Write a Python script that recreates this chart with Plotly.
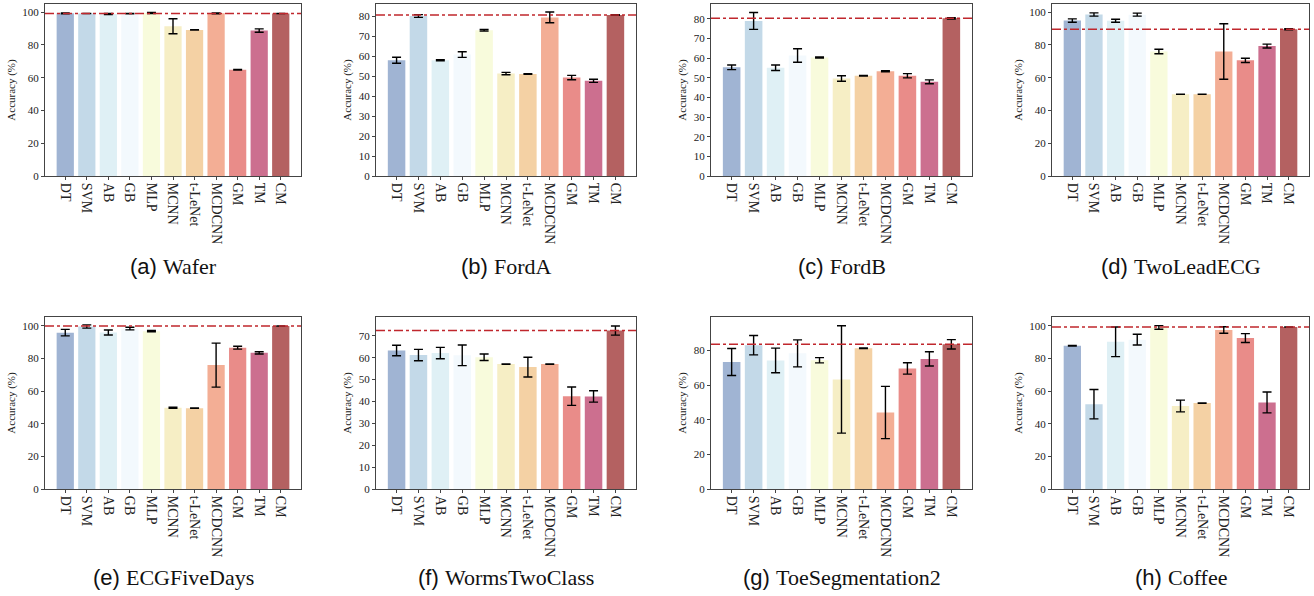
import plotly.graph_objects as go

methods = ["DT", "SVM", "AB", "GB", "MLP", "MCNN", "t-LeNet", "MCDCNN", "GM", "TM", "CM"]
bar_colors = ["#a0b4d3", "#c3d9e8", "#dff0f5", "#f3f9fd", "#f8fbdc", "#f6eec5",
              "#f4d1a4", "#f3ae95", "#e98c89", "#cc6f8f", "#b46161"]

labels = ["(a)", "(b)", "(c)", "(d)", "(e)", "(f)", "(g)", "(h)"]
datasets = ["Wafer", "FordA", "FordB", "TwoLeadECG",
            "ECGFiveDays", "WormsTwoClass", "ToeSegmentation2", "Coffee"]

wafer_mean = [99.3, 99.2, 98.9, 99.1, 99.5, 91.4, 89.2, 99.3, 64.9, 88.8, 99.2]
wafer_err = [0.3, 0.1, 0.3, 0.1, 0.3, 4.6, 0.1, 0.3, 0.2, 1.0, 0.1]
forda_mean = [57.9, 80.0, 57.9, 60.7, 72.9, 51.2, 51.0, 79.3, 49.2, 47.6, 80.5]
forda_err = [1.5, 0.7, 0.3, 1.4, 0.4, 0.6, 0.1, 2.7, 1.1, 0.8, 0.2]
fordb_mean = [55.3, 78.9, 55.1, 61.3, 60.3, 49.6, 51.0, 53.3, 51.0, 47.9, 80.2]
fordb_err = [1.2, 4.3, 1.4, 3.4, 0.3, 1.4, 0.1, 0.3, 1.1, 1.0, 0.3]
twolead_mean = [94.9, 98.6, 94.8, 98.5, 76.0, 49.9, 49.9, 76.0, 70.6, 79.3, 89.6]
twolead_err = [1.0, 1.0, 0.9, 0.9, 1.4, 0.1, 0.1, 16.9, 1.3, 1.2, 0.3]
ecg5_mean = [95.9, 99.7, 96.0, 98.4, 96.8, 49.8, 49.6, 76.0, 86.7, 83.5, 100.0]
ecg5_err = [2.0, 1.0, 1.5, 0.8, 0.4, 0.3, 0.1, 13.5, 0.9, 0.7, 0.0]
worms_mean = [63.3, 61.2, 62.1, 61.1, 60.2, 57.1, 55.7, 57.1, 42.4, 42.3, 72.4]
worms_err = [2.4, 2.6, 2.6, 4.7, 1.5, 0.1, 4.5, 0.1, 4.2, 2.6, 2.1]
toe_mean = [73.4, 83.1, 74.3, 78.4, 74.4, 63.3, 81.3, 44.2, 69.7, 75.2, 83.6]
toe_err = [7.8, 5.6, 7.1, 7.8, 1.5, 31.0, 0.2, 15.1, 3.3, 4.1, 2.7]
coffee_mean = [87.9, 52.0, 90.3, 91.6, 99.1, 50.9, 52.7, 97.5, 92.6, 53.1, 99.4]
coffee_err = [0.2, 9.0, 9.1, 3.3, 1.1, 3.6, 0.1, 2.0, 2.7, 6.4, 0.0]

means = [wafer_mean, forda_mean, fordb_mean, twolead_mean,
         ecg5_mean, worms_mean, toe_mean, coffee_mean]
errs = [wafer_err, forda_err, fordb_err, twolead_err,
        ecg5_err, worms_err, toe_err, coffee_err]
y_tops = [105, 86, 87.5, 105, 105.5, 78.6, 99.4, 105.5]
y_dticks = [20, 10, 10, 20, 20, 10, 20, 20]

W, H = 1314, 596
col_px = [(45, 301), (376, 636), (711, 972), (1052, 1309)]
row_px = [(4, 176), (317, 489)]
caption_y_px = [266, 577]


def px_x(v):
    return v / W


def px_y(v):
    return 1 - v / H


fig = go.Figure()
for i in range(8):
    r, c = divmod(i, 4)
    ax = "" if i == 0 else str(i + 1)
    xref, yref = "x" + ax, "y" + ax
    fig.add_trace(go.Bar(
        x=list(range(len(methods))), y=means[i],
        marker=dict(color=bar_colors, line=dict(width=0)),
        width=0.8,
        error_y=dict(type="data", array=errs[i], color="black", thickness=1.4, width=4.5),
        xaxis=xref, yaxis=yref, showlegend=False,
    ))
    x0, x1 = col_px[c]
    yt, yb = row_px[r]
    axis_common = dict(showline=True, linecolor="#444", linewidth=1, mirror=True,
                       ticks="outside", ticklen=3, tickcolor="#444", showgrid=False,
                       zeroline=False, automargin=False)
    fig.update_layout(**{
        "xaxis" + ax: dict(domain=[px_x(x0), px_x(x1)], anchor=yref, range=[-0.94, 10.94],
                           tickmode="array", tickvals=list(range(len(methods))), ticktext=methods,
                           tickangle=90,
                           tickfont=dict(family="Liberation Serif", size=14, color="#222"),
                           **axis_common),
        "yaxis" + ax: dict(domain=[px_y(yb), px_y(yt)], anchor=xref, range=[0, y_tops[i]],
                           dtick=y_dticks[i],
                           tickfont=dict(family="Liberation Serif", size=11, color="#222"),
                           title=dict(text="Accuracy (%)", standoff=4,
                                      font=dict(family="Liberation Serif", size=11, color="#222")),
                           **axis_common),
    })
    fig.add_shape(type="line", xref=xref + " domain", yref=yref, x0=0, x1=1,
                  y0=means[i][-1], y1=means[i][-1],
                  line=dict(color="#c0272d", width=1.5, dash="dashdot"))
    fig.add_annotation(
        xref="paper", yref="paper", x=px_x((x0 + x1) / 2), y=px_y(caption_y_px[r]),
        text=labels[i] + " <span style='font-family:Liberation Serif'>" + datasets[i] + "</span>",
        showarrow=False, xanchor="center", yanchor="middle",
        font=dict(family="Liberation Sans", size=22, color="#111"),
    )

fig.update_layout(width=W, height=H, margin=dict(l=0, r=0, t=0, b=0),
                  plot_bgcolor="white", paper_bgcolor="white", bargap=0.2)
fig.write_html("out.html", config={"displayModeBar": False},
               post_script="document.body.style.margin='0';")
